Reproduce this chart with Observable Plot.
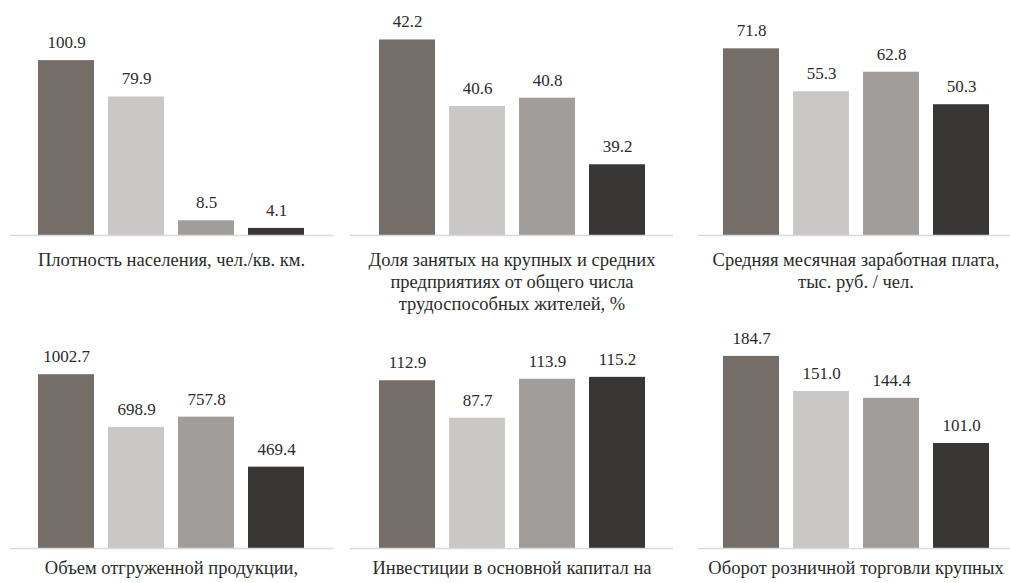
<!DOCTYPE html>
<html>
<head>
<meta charset="utf-8">
<script src="https://cdn.jsdelivr.net/npm/d3@7"></script>
<script src="https://cdn.jsdelivr.net/npm/@observablehq/plot@0.6"></script>
<style>
  html, body { margin: 0; padding: 0; background: #fff; }
  body { width: 1010px; height: 583px; overflow: hidden; position: relative; }
  .panel { position: absolute; }
  .panel svg { max-width: none !important; }
  .caption { position: absolute; text-align: center; color: #2b2b2b; line-height: 22px; white-space: nowrap; transform: translateX(-50%); }
</style>
</head>
<body style="font-family:'Liberation Serif', serif">
<script>
// ---- data ----
const series = ["1", "2", "3", "4"];
const density = [100.9, 79.9, 8.5, 4.1];
const employmentShare = [42.2, 40.6, 40.8, 39.2];
const wage = [71.8, 55.3, 62.8, 50.3];
const shipped = [1002.7, 698.9, 757.8, 469.4];
const investment = [112.9, 87.7, 113.9, 115.2];
const retail = [184.7, 151.0, 144.4, 101.0];
const captions = [
  ["Плотность населения, чел./кв. км."],
  ["Доля занятых на крупных и средних", "предприятиях от общего числа", "трудоспособных жителей, %"],
  ["Средняя месячная заработная плата,", "тыс. руб. / чел."],
  ["Объем отгруженной продукции,"],
  ["Инвестиции в основной капитал на"],
  ["Оборот розничной торговли крупных"]
];
const yDomains = [[0, 120], [37.5, 42.5], [0, 80], [0, 1200], [0, 140], [0, 200]];
const colors = ["#746d68", "#c9c8c6", "#a19d9a", "#393735"];

// ---- layout ----
const colLeft = [0, 340, 670];
const colWidth = [340, 340, 350];
const colMargins = [[10, 7], [10, 7], [28, 6]];
const colXRange = [[31, 311], [31, 312], [46, 326]];
const colCaptionX = [171.5, 512, 856];
const rowTop = [0, 313];
const rowCaptionY = [249, 557];

const allValues = [density, employmentShare, wage, shipped, investment, retail];
const fmt = d3.format(".1f");
const serif = "'Liberation Serif', serif";

allValues.forEach((vals, i) => {
  const row = Math.floor(i / 3), col = i % 3;
  const data = series.map((s, j) => ({s, v: vals[j]}));
  const dom = yDomains[i];
  const chart = Plot.plot({
    width: colWidth[col],
    height: 240,
    marginTop: 27,
    marginBottom: 5,
    marginLeft: colMargins[col][0],
    marginRight: colMargins[col][1],
    style: {background: "transparent", maxWidth: "none", fontFamily: serif},
    x: {domain: series, range: colXRange[col], paddingInner: 0.2, paddingOuter: 0.1, axis: null},
    y: {domain: dom, axis: null},
    color: {domain: series, range: colors},
    marks: [
      Plot.barY(data, {x: "s", y1: dom[0], y2: "v", fill: "s"}),
      Plot.ruleY([dom[0]], {stroke: "#d9d9d9", strokeWidth: 1.5}),
      Plot.text(data, {x: "s", y: "v", text: d => fmt(d.v), dy: -18, fontSize: 17, fill: "#2b2b2b", fontFamily: "Liberation Serif"})
    ]
  });
  const wrap = document.createElement("div");
  wrap.className = "panel";
  wrap.style.left = colLeft[col] + "px";
  wrap.style.top = rowTop[row] + "px";
  wrap.style.width = colWidth[col] + "px";
  wrap.appendChild(chart);
  document.body.appendChild(wrap);

  const cap = document.createElement("div");
  cap.className = "caption";
  cap.style.left = colCaptionX[col] + "px";
  cap.style.top = rowCaptionY[row] + "px";
  cap.style.fontFamily = serif;
  cap.style.fontSize = "18.5px";
  cap.innerHTML = captions[i].join("<br>");
  document.body.appendChild(cap);
});
</script>
</body>
</html>
